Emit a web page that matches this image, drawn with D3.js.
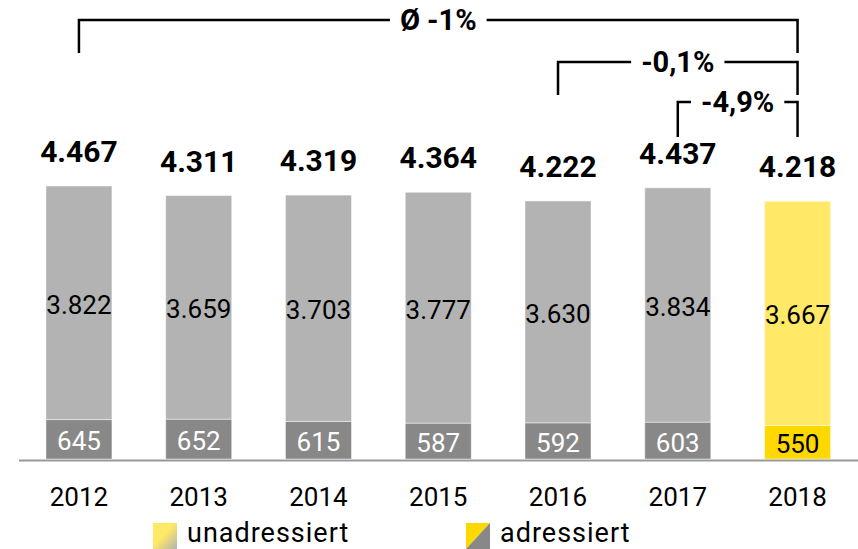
<!DOCTYPE html>
<html>
<head>
<meta charset="utf-8">
<script src="https://cdn.jsdelivr.net/npm/d3@7"></script>
<style>
  body { margin: 0; background: #fff; }
  svg { display: block; font-family: Roboto, "Liberation Sans", sans-serif; }
</style>
</head>
<body>
<div id="container"></div>
<script>
// values (in thousands)
var years = ["2012", "2013", "2014", "2015", "2016", "2017", "2018"];
var adressiert = [645, 652, 615, 587, 592, 603, 550];
var unadressiert = [3822, 3659, 3703, 3777, 3630, 3834, 3667];
var totals = ["4.467", "4.311", "4.319", "4.364", "4.222", "4.437", "4.218"];
var innerLabels = ["3.822", "3.659", "3.703", "3.777", "3.630", "3.834", "3.667"];
var brackets = [
  {from: "2012", to: "2018", label: "\u00d8 -1%"},
  {from: "2016", to: "2018", label: "-0,1%"},
  {from: "2017", to: "2018", label: "-4,9%"}
];
var legendLabels = ["unadressiert", "adressiert"];

var width = 858, height = 549;
var highlight = "2018";

var svg = d3.select("#container").append("svg")
  .attr("width", width)
  .attr("height", height);

var data = years.map(function(y, i){
  return {year: y, adressiert: adressiert[i], unadressiert: unadressiert[i], total: totals[i], inner: innerLabels[i]};
});

var x = d3.scaleBand().domain(years).range([19, 857.5]).paddingInner(0.449).paddingOuter(0.225);
var y = d3.scaleLinear().domain([0, 4467]).range([459, 186]);

var stack = d3.stack().keys(["adressiert", "unadressiert"]);
var series = stack(data);

var colors = {
  adressiert: {normal: "#888888", hi: "#ffd800"},
  unadressiert: {normal: "#b3b3b3", hi: "#ffe967"}
};

var G = svg.append("g").attr("id", "bars");
G.selectAll("g.series")
  .data(series)
  .enter()
  .append("g")
  .attr("class", "series")
  .each(function(s){
    d3.select(this).selectAll("rect")
      .data(s)
      .enter()
      .append("rect")
      .attr("x", function(d){ return x(d.data.year); })
      .attr("y", function(d){ return y(d[1]); })
      .attr("width", x.bandwidth())
      .attr("height", function(d){ return y(d[0]) - y(d[1]); })
      .attr("fill", function(d){ return d.data.year == highlight ? colors[s.key].hi : colors[s.key].normal; })
      .attr("stroke", "#fff")
      .attr("stroke-opacity", 0.45)
      .attr("stroke-width", 1);
  });

// baseline
svg.append("line")
  .attr("x1", 19).attr("x2", width)
  .attr("y1", 460.5).attr("y2", 460.5)
  .attr("stroke", "#999")
  .attr("stroke-width", 2);

var cx = function(yr){ return x(yr) + x.bandwidth() / 2; };

// labels inside the bars
svg.selectAll("text.inner")
  .data(data)
  .enter()
  .append("text")
  .attr("class", "inner")
  .attr("x", function(d){ return cx(d.year); })
  .attr("y", function(d){ return (y(d.adressiert) + y(d.adressiert + d.unadressiert)) / 2 + 2; })
  .attr("text-anchor", "middle")
  .attr("dominant-baseline", "central")
  .attr("font-size", 26)
  .attr("fill", "#000")
  .text(function(d){ return d.inner; });

svg.selectAll("text.low")
  .data(data)
  .enter()
  .append("text")
  .attr("class", "low")
  .attr("x", function(d){ return cx(d.year); })
  .attr("y", function(d){ return (y(0) + y(d.adressiert)) / 2 + 2; })
  .attr("text-anchor", "middle")
  .attr("dominant-baseline", "central")
  .attr("font-size", 26)
  .attr("fill", function(d){ return d.year == highlight ? "#000" : "#fff"; })
  .text(function(d){ return d.adressiert; });

// totals
svg.selectAll("text.total")
  .data(data)
  .enter()
  .append("text")
  .attr("class", "total")
  .attr("x", function(d){ return cx(d.year); })
  .attr("y", function(d){ return y(d.adressiert + d.unadressiert) - 24; })
  .attr("text-anchor", "middle")
  .attr("font-size", 30)
  .attr("font-weight", "bold")
  .attr("fill", "#000")
  .text(function(d){ return d.total; });

// years
svg.selectAll("text.year")
  .data(years)
  .enter()
  .append("text")
  .attr("class", "year")
  .attr("x", function(d){ return cx(d); })
  .attr("y", 506)
  .attr("text-anchor", "middle")
  .attr("font-size", 26)
  .attr("fill", "#000")
  .text(function(d){ return d; });

// brackets
var levels = [20, 62, 102];
var legLen = [33, 33, 35];
brackets.forEach(function(b, i){
  var x1 = cx(b.from), x2 = cx(b.to), ly = levels[i];
  var g = svg.append("g").attr("class", "bracket");
  var t = g.append("text")
    .attr("x", (x1 + x2) / 2)
    .attr("y", ly)
    .attr("text-anchor", "middle")
    .attr("dominant-baseline", "central")
    .attr("font-size", 29)
    .attr("font-weight", "bold")
    .text(b.label);
  var bb = t.node().getBBox();
  var gap = 10;
  var path = d3.path();
  path.moveTo(x1, ly + legLen[i]);
  path.lineTo(x1, ly);
  path.lineTo(bb.x - gap, ly);
  path.moveTo(bb.x + bb.width + gap, ly);
  path.lineTo(x2, ly);
  path.lineTo(x2, ly + legLen[i]);
  g.append("path")
    .attr("d", path.toString())
    .attr("fill", "none")
    .attr("stroke", "#000")
    .attr("stroke-width", 2.5);
});

// legend
var defs = svg.append("defs");
var grad = defs.append("linearGradient").attr("id", "gradU")
  .attr("x1", "0%").attr("y1", "0%").attr("x2", "100%").attr("y2", "100%");
grad.append("stop").attr("offset", "45%").attr("stop-color", colors.unadressiert.hi);
grad.append("stop").attr("offset", "100%").attr("stop-color", colors.unadressiert.normal);

var legendX = [153, 466];
var legend = svg.selectAll("g.legend")
  .data(legendLabels)
  .enter()
  .append("g")
  .attr("class", "legend")
  .attr("transform", function(d, i){ return "translate(" + legendX[i] + ",523)"; });

legend.each(function(d, i){
  var g = d3.select(this);
  if(i == 0){
    g.append("rect").attr("width", 24).attr("height", 26).attr("fill", "url(#gradU)");
  }else{
    g.append("path").attr("d", "M0,0H24L0,26Z").attr("fill", colors.adressiert.hi);
    g.append("path").attr("d", "M24,0V26H0Z").attr("fill", colors.adressiert.normal);
  }
});

legend.append("text")
  .attr("x", 34)
  .attr("y", 19)
  .attr("font-size", 27)
  .attr("letter-spacing", 1)
  .attr("fill", "#000")
  .text(function(d){ return d; });
</script>
</body>
</html>
